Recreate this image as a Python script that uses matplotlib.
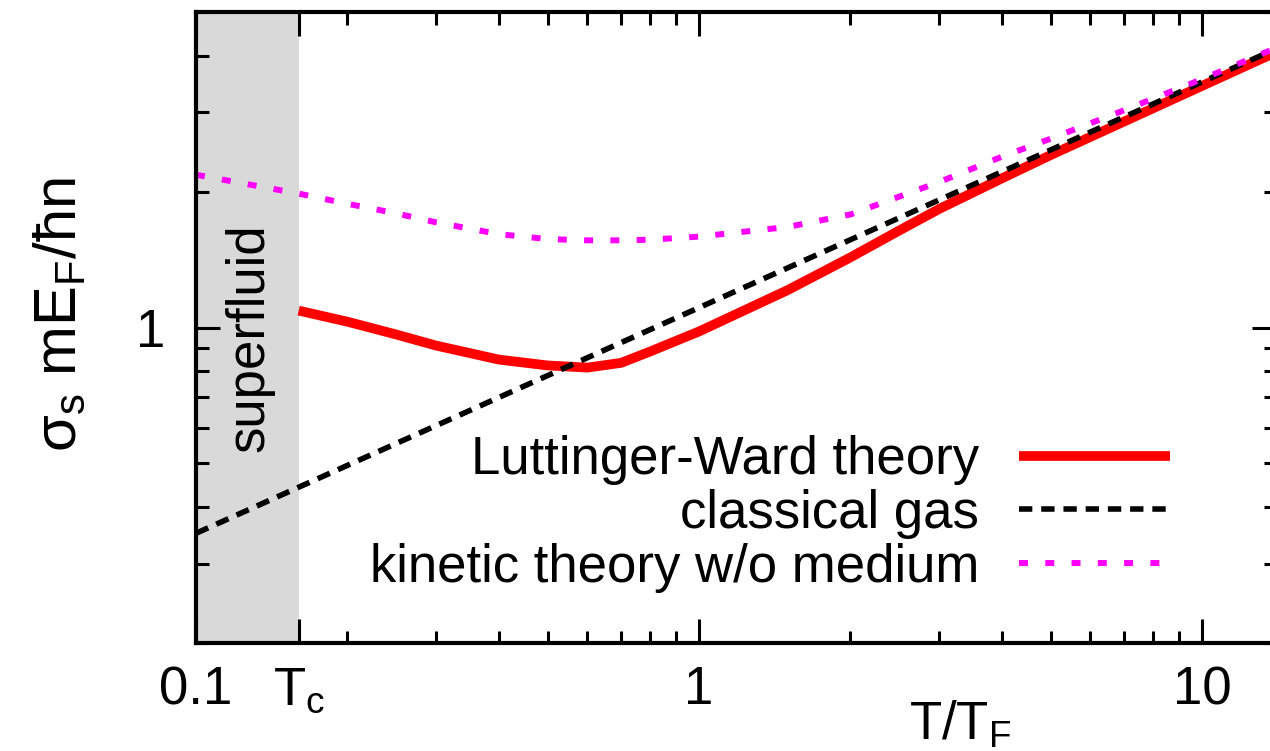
import numpy as np
import matplotlib
matplotlib.use('Agg')
from matplotlib import pyplot as plt

plt.rcParams['font.family'] = ['Liberation Sans', 'DejaVu Sans']
plt.rcParams['mathtext.fontset'] = 'custom'
plt.rcParams['mathtext.rm'] = 'Liberation Sans'
plt.rcParams['mathtext.it'] = 'Liberation Sans'

# data
T_c = 0.16
T_lw = [0.16, 0.2, 0.25, 0.3, 0.4, 0.5, 0.6, 0.7, 0.8, 1.0, 1.5, 2, 2.5, 3, 4, 5, 7, 10, 14]
sigma_lw = [1.09, 1.03, 0.965, 0.912, 0.849, 0.824, 0.815, 0.835, 0.885, 0.98,
            1.21, 1.43, 1.64, 1.83, 2.14, 2.41, 2.86, 3.43, 4.07]

T_cl = [0.1, 14]
sigma_cl = [0.35, 4.14]

T_kin = [0.1, 0.16, 0.2, 0.25, 0.3, 0.4, 0.5, 0.6, 0.7, 0.8, 1.0, 1.5, 2, 3, 4, 5, 7, 10, 14]
sigma_kin = [2.18, 1.98, 1.88, 1.79, 1.71, 1.61, 1.57, 1.56, 1.56, 1.565, 1.59,
             1.67, 1.78, 2.10, 2.39, 2.62, 3.03, 3.55, 4.16]

labels = ['Luttinger-Ward theory', 'classical gas', 'kinetic theory w/o medium']
xtick_pos = [0.1, T_c, 1, 10]
xtick_lab = ['0.1', 'T$_\\mathrm{c}$', '1', '10']

fs = 38
fig = plt.figure(figsize=(12.7, 7.51), dpi=100)
ax = fig.add_axes([196/1270, 1-643/751, 1079.6/1270, 631/751])
ax.set_xscale('log')
ax.set_yscale('log')
ax.set_xlim(0.1, 14)
ax.set_ylim(0.2, 5)

ax.axvspan(0.1, T_c, color='#d9d9d9', lw=0, zorder=0)
ax.text(0.128, 0.95, 'superfluid', rotation=90, ha='center', va='center', fontsize=fs)

ax.plot(T_lw, sigma_lw, color='red', lw=7, label=labels[0], solid_capstyle='butt')
ax.plot(T_cl, sigma_cl, color='black', lw=4, dashes=(2.4, 1.6), label=labels[1])
ax.plot(T_kin, sigma_kin, color='magenta', lw=4.3, dashes=(1.5, 2.9), label=labels[2])

ax.set_xticks(xtick_pos)
ax.set_xticklabels(xtick_lab)
ax.set_yticks([1])
ax.set_yticklabels(['1'])
ax.tick_params(which='both', direction='in', top=True, right=True, width=2.2, labelsize=fs)
ax.tick_params(which='major', length=17)
ax.tick_params(which='minor', length=9)
ax.tick_params(axis='x', which='major', pad=16)
ax.tick_params(axis='y', which='major', pad=22)
for s in ax.spines.values():
    s.set_linewidth(3)

ax.text(0.708, -0.13, 'T/T$_\\mathrm{F}$', transform=ax.transAxes, ha='center', va='center', fontsize=fs)
fig.text(60/1270, 1-315/751, 'σ$_\\mathrm{s}$ mE$_\\mathrm{F}$/ħn', rotation=90,
         ha='center', va='center', fontsize=43)

leg = ax.legend(loc='lower right', bbox_to_anchor=(0.902, 0.08), frameon=False,
                markerfirst=False, fontsize=fs, handlelength=2.85, handletextpad=0.76,
                labelspacing=0.07, borderpad=0, borderaxespad=0)

fig.savefig('out.png', dpi=100)
